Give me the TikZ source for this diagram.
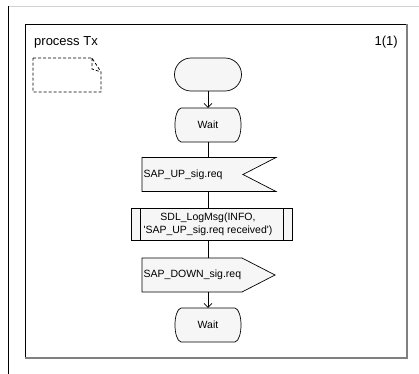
\documentclass[tikz,border=0pt]{standalone}
\usepackage{fontspec}
\setmainfont{Liberation Sans}
\usepackage{xcolor}
\usepackage{tikz}
\usetikzlibrary{arrows.meta,positioning,calc}
\definecolor{sf}{HTML}{F6F6F6}
\definecolor{fr}{HTML}{808080}
\definecolor{rl}{HTML}{D2D2D2}
\newcommand{\StateSym}[1]{%
  \draw[sym,shift={#1}] (-27,-17) -- (27,-17) .. controls (35,-15) and (35,15) .. (27,17)
    -- (-27,17) .. controls (-35,15) and (-35,-15) .. cycle;}
\tikzset{
  sym/.style={draw=black, line width=0.7bp, fill=sf},
  lbl/.style={inner sep=0pt, font=\fontsize{10.5bp}{13bp}\selectfont},
  hdr/.style={inner sep=0pt, font=\fontsize{13bp}{15bp}\selectfont},
  flow/.style={line width=0.7bp},
  flowarr/.style={flow, -{Straight Barb[length=4bp,width=8bp]}},
}

\begin{document}
\begin{tikzpicture}[x=1bp, y=-1bp]
  \useasboundingbox (0,0) rectangle (419,374);
  % page rule and frame
  \draw[rl, line width=0.8bp] (8,6) -- (419,6);
  \draw[black, line width=0.8bp] (8,6) -- (8,374);
  \draw[black, line width=0.7bp] (25,358) -- (25,24) -- (407,24);
  \draw[fr, line width=1.6bp] (407,24) -- (407,358) -- (25,358);
  \node[hdr, anchor=base west] (title) at (34,45.3) {process Tx};
  \node[hdr, anchor=base east] (page) at (398,45.3) {1(1)};

  % text symbol
  \draw[black, line width=0.75bp, dash pattern=on 3bp off 2bp]
    (33,58) -- (92,58) -- (101,72) -- (101,92) -- (33,92) -- cycle
    (92,58) -- (92,69) -- (101,72);

  % start and states
  \node[sym, rounded corners=16.5bp, minimum width=67bp, minimum height=33bp] (start) at (208,74.5) {};
  \StateSym{(208,125)}
  \node[lbl, minimum width=67bp, minimum height=34bp] (wait1) at (208,125) {Wait};

  % input
  \draw[sym] (142,157.5) -- (276,157.5) -- (243,174.5) -- (276,191.5) -- (142,191.5) -- cycle;
  \node[lbl, anchor=west, minimum height=34bp] (upreq) at (143.5,174.5) {SAP\_UP\_sig.req};

  % procedure call
  \draw[sym] (131,208) rectangle (292,240.5);
  \draw[flow] (140,208) -- (140,240.5) (283,208) -- (283,240.5);
  \node[lbl, align=center, minimum height=32.5bp] (logmsg) at (208,224.3)
    {SDL\_LogMsg(INFO,\\\textquotesingle SAP\_UP\_sig.req received\textquotesingle)};

  % output
  \draw[sym] (142,258) -- (242,258) -- (275,275) -- (242,292) -- (142,292) -- cycle;
  \node[lbl, anchor=west, minimum height=34bp] (downreq) at (143.5,275) {SAP\_DOWN\_sig.req};

  \StateSym{(208,325)}
  \node[lbl, minimum width=67bp, minimum height=34bp] (wait2) at (208,325) {Wait};

  % flow lines
  \draw[flowarr] (start) -- (wait1);
  \draw[flow] (wait1.south) -- (wait1.south |- upreq.north);
  \draw[flow] (logmsg.north |- upreq.south) -- (logmsg.north);
  \draw[flow] (logmsg.south) -- (logmsg.south |- downreq.north);
  \draw[flowarr] (wait2.north |- downreq.south) -- (wait2.north);
\end{tikzpicture}
\end{document}
